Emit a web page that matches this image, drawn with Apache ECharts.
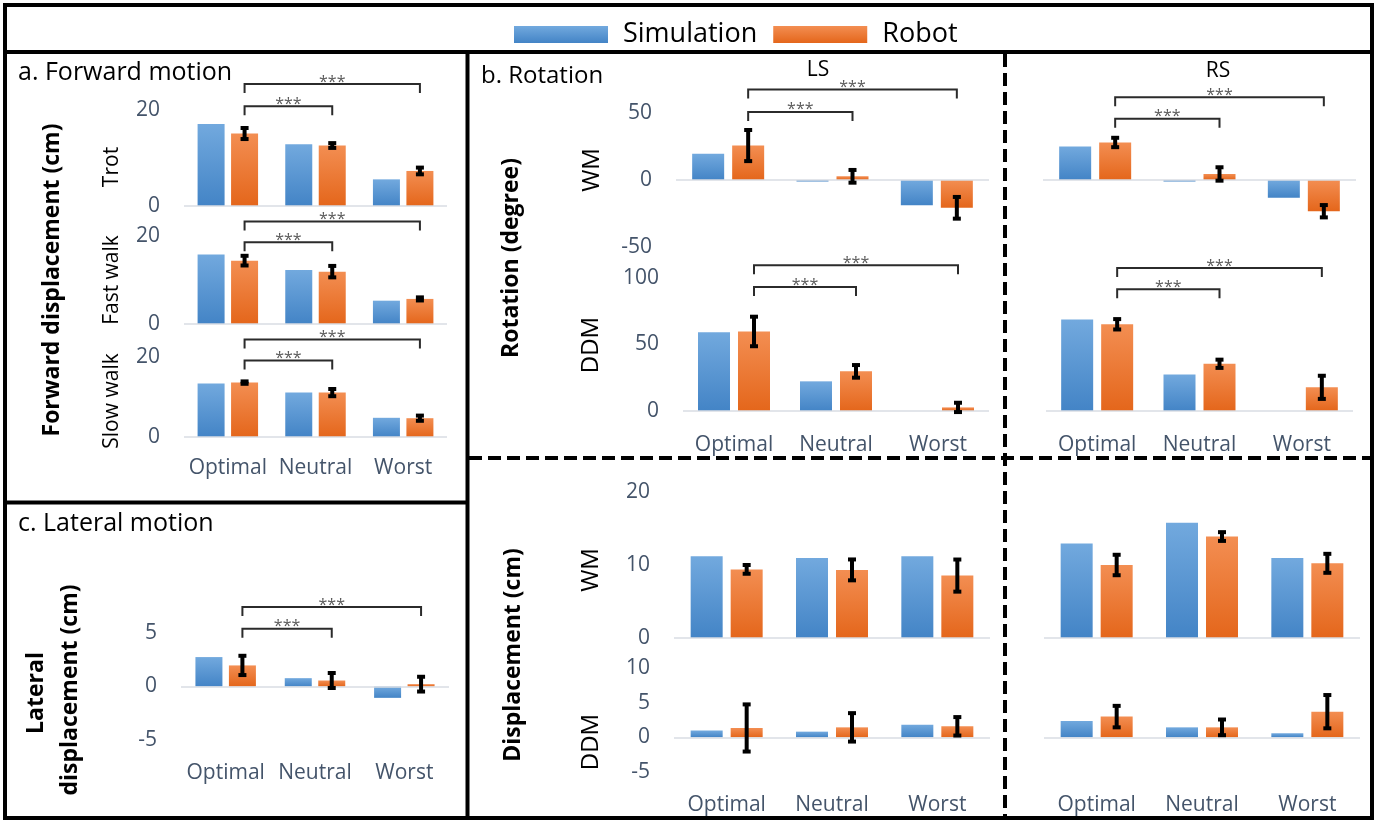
<!DOCTYPE html>
<html>
<head>
<meta charset="utf-8">
<script src="https://cdn.jsdelivr.net/npm/echarts@6/dist/echarts.min.js"></script>
<style>
  html, body { margin: 0; padding: 0; background: #fff; }
  #chart { width: 1390px; height: 821px; }
</style>
</head>
<body>
<div id="chart"></div>
<script>
// ---------------- DATA ----------------
const categories = ['Optimal', 'Neutral', 'Worst'];
const seriesNames = ['Simulation', 'Robot'];

// a. Forward motion - forward displacement (cm)
const trotSim   = [17.1, 12.85, 5.55];
const trotRobot = [15.1, 12.6, 7.3];
const trotErr   = [1.15, 0.5, 0.7];
const fastSim   = [15.8, 12.3, 5.3];
const fastRobot = [14.4, 11.9, 5.7];
const fastErr   = [1.1, 1.3, 0.35];
const slowSim   = [13.4, 11.1, 4.8];
const slowRobot = [13.6, 11.1, 4.7];
const slowErr   = [0.3, 0.9, 0.65];

// c. Lateral motion - lateral displacement (cm)
const latSim   = [2.75, 0.78, -1.06];
const latRobot = [1.97, 0.56, 0.22];
const latErr   = [0.9, 0.7, 0.69];

// b. Rotation (degree)
const rotWmLsSim    = [19.5, -1.2, -18.8];
const rotWmLsRobot  = [25.7, 2.75, -20.75];
const rotWmLsErr    = [11.6, 4.75, 8.1];
const rotWmRsSim    = [25.0, -1.2, -13.3];
const rotWmRsRobot  = [28.0, 4.5, -23.3];
const rotWmRsErr    = [3.5, 5.0, 4.6];
const rotDdmLsSim   = [59.3, 22.3, -1.2];
const rotDdmLsRobot = [59.8, 29.8, 2.7];
const rotDdmLsErr   = [11.1, 4.75, 3.5];
const rotDdmRsSim   = [68.8, 27.5, -1.4];
const rotDdmRsRobot = [65.2, 35.5, 17.8];
const rotDdmRsErr   = [3.9, 3.1, 8.7];

// b. (lower) Displacement (cm)
const dispWmLsSim    = [11.2, 10.97, 11.2];
const dispWmLsRobot  = [9.4, 9.33, 8.55];
const dispWmLsErr    = [0.6, 1.43, 2.2];
const dispWmRsSim    = [12.96, 15.8, 10.97];
const dispWmRsRobot  = [10.0, 13.9, 10.23];
const dispWmRsErr    = [1.4, 0.6, 1.3];
const dispDdmLsSim   = [0.97, 0.82, 1.83];
const dispDdmLsRobot = [1.35, 1.44, 1.59];
const dispDdmLsErr   = [3.4, 2.05, 1.33];
const dispDdmRsSim   = [2.37, 1.44, 0.58];
const dispDdmRsRobot = [2.99, 1.44, 3.7];
const dispDdmRsErr   = [1.55, 1.13, 2.4];

// significance brackets: [fromCategory, toCategory, level]
const trotBrackets   = [[0, 1, 20.8], [0, 2, 25.4]];
const fastBrackets   = [[0, 1, 18.6], [0, 2, 23.3]];
const slowBrackets   = [[0, 1, 19.1], [0, 2, 24.4]];
const latBrackets    = [[0, 1, 5.4], [0, 2, 7.43]];
const rotWmLsBr      = [[0, 1, 50.8], [0, 2, 67.5]];
const rotWmRsBr      = [[0, 1, 45.75], [0, 2, 61.7]];
const rotDdmLsBr     = [[0, 1, 93.2], [0, 2, 109.5]];
const rotDdmRsBr     = [[0, 1, 91.5], [0, 2, 107.5]];
const sigLabel = '***';

// ---------------- LAYOUT ----------------
const FONT = 'Open Sans';
const AXIS_COLOR = '#44546A';
const panels = [
  { g: { left: 184, top: 110, width: 263, height: 96 },  y: [0, 20, 20],   yl: true,  xl: false, sim: trotSim, rob: trotRobot, err: trotErr, br: trotBrackets, bw: 27, gap: 0.24 },
  { g: { left: 184, top: 236, width: 263, height: 88 },  y: [0, 20, 20],   yl: true,  xl: false, sim: fastSim, rob: fastRobot, err: fastErr, br: fastBrackets, bw: 27, gap: 0.24 },
  { g: { left: 184, top: 357, width: 263, height: 80 },  y: [0, 20, 20],   yl: true,  xl: true, xm: 21, sim: slowSim, rob: slowRobot, err: slowErr, br: slowBrackets, bw: 27, gap: 0.24 },
  { g: { left: 181, top: 633, width: 268, height: 107 }, y: [-5, 5, 5],    yl: true,  xl: true, xm: 23, sim: latSim, rob: latRobot, err: latErr, br: latBrackets, bw: 27, gap: 0.24 },
  { g: { left: 676, top: 113, width: 313, height: 134 }, y: [-50, 50, 50], yl: true,  xl: false, sim: rotWmLsSim, rob: rotWmLsRobot, err: rotWmLsErr, br: rotWmLsBr, bw: 32, gap: 0.25 },
  { g: { left: 1043, top: 113, width: 313, height: 134 },y: [-50, 50, 50], yl: false, xl: false, sim: rotWmRsSim, rob: rotWmRsRobot, err: rotWmRsErr, br: rotWmRsBr, bw: 32, gap: 0.25 },
  { g: { left: 683, top: 278, width: 306, height: 133 }, y: [0, 100, 50],  yl: true,  xl: true, xm: 24, sim: rotDdmLsSim, rob: rotDdmLsRobot, err: rotDdmLsErr, br: rotDdmLsBr, bw: 32, gap: 0.25 },
  { g: { left: 1046, top: 278, width: 307, height: 133 },y: [0, 100, 50],  yl: false, xl: true, xm: 24, sim: rotDdmRsSim, rob: rotDdmRsRobot, err: rotDdmRsErr, br: rotDdmRsBr, bw: 32, gap: 0.25 },
  { g: { left: 674, top: 492, width: 316, height: 146 }, y: [0, 20, 10],   yl: true,  xl: false, sim: dispWmLsSim, rob: dispWmLsRobot, err: dispWmLsErr, br: [], bw: 32, gap: 0.25 },
  { g: { left: 1044, top: 492, width: 316, height: 146 },y: [0, 20, 10],   yl: false, xl: false, sim: dispWmRsSim, rob: dispWmRsRobot, err: dispWmRsErr, br: [], bw: 32, gap: 0.25 },
  { g: { left: 674, top: 668, width: 316, height: 104 }, y: [-5, 10, 5],   yl: true,  xl: true, xm: 23, sim: dispDdmLsSim, rob: dispDdmLsRobot, err: dispDdmLsErr, br: [], bw: 32, gap: 0.25 },
  { g: { left: 1044, top: 668, width: 316, height: 104 },y: [-5, 10, 5],   yl: false, xl: true, xm: 23, sim: dispDdmRsSim, rob: dispDdmRsRobot, err: dispDdmRsErr, br: [], bw: 32, gap: 0.25 }
];

const chart = echarts.init(document.getElementById('chart'), null, { renderer: 'canvas' });
const blueGrad = new echarts.graphic.LinearGradient(0, 0, 0, 1, [
  { offset: 0, color: '#72A9DE' }, { offset: 1, color: '#4384C6' }]);
const orangeGrad = new echarts.graphic.LinearGradient(0, 0, 0, 1, [
  { offset: 0, color: '#F38E52' }, { offset: 1, color: '#E4661B' }]);

const grids = [], xAxes = [], yAxes = [], series = [];
panels.forEach((p, i) => {
  grids.push(Object.assign({}, p.g));
  xAxes.push({
    type: 'category', gridIndex: i, data: categories,
    axisLine: { show: false }, axisTick: { show: false }, splitLine: { show: false },
    axisLabel: { show: p.xl, margin: p.xm || 20, color: AXIS_COLOR, fontSize: 21, fontFamily: FONT, interval: 0 }
  });
  yAxes.push({
    type: 'value', gridIndex: i, min: p.y[0], max: p.y[1], interval: p.y[2],
    axisLine: { show: false }, axisTick: { show: false }, splitLine: { show: false },
    axisLabel: { show: p.yl, margin: 24, color: AXIS_COLOR, fontSize: 21, fontFamily: FONT }
  });
  const off = p.bw * (1 + p.gap) / 2;
  // zero baseline, drawn beneath the bars
  series.push({
    type: 'line', xAxisIndex: i, yAxisIndex: i, data: [], z: 1, silent: true,
    markLine: {
      silent: true, symbol: 'none', label: { show: false }, animation: false,
      lineStyle: { color: '#D9DDE3', width: 1.5, type: 'solid' }, data: [{ yAxis: 0 }]
    }
  });
  series.push({
    name: seriesNames[0], type: 'bar', xAxisIndex: i, yAxisIndex: i, data: p.sim, z: 3,
    barWidth: p.bw, barGap: (p.gap * 100) + '%',
    itemStyle: { color: blueGrad }
  });
  series.push({
    name: seriesNames[1], type: 'bar', xAxisIndex: i, yAxisIndex: i, data: p.rob, z: 3,
    barWidth: p.bw, barGap: (p.gap * 100) + '%',
    itemStyle: { color: orangeGrad }
  });
  series.push({
    type: 'custom', xAxisIndex: i, yAxisIndex: i, z: 5, silent: true, clip: false,
    data: p.rob.map((v, k) => [k, v, p.err[k]]),
    encode: { x: 0, y: 1 },
    renderItem: (params, api) => {
      const c = api.value(0), v = api.value(1), e = api.value(2);
      const t = api.coord([c, v + e]), b = api.coord([c, v - e]);
      const x = t[0] + off;
      const st = { stroke: '#000', lineWidth: 4 };
      return { type: 'group', children: [
        { type: 'line', shape: { x1: x, y1: t[1], x2: x, y2: b[1] }, style: st },
        { type: 'line', shape: { x1: x - 4, y1: t[1], x2: x + 4, y2: t[1] }, style: st },
        { type: 'line', shape: { x1: x - 4, y1: b[1], x2: x + 4, y2: b[1] }, style: st }
      ]};
    }
  });
  if (p.br.length) {
    series.push({
      type: 'custom', xAxisIndex: i, yAxisIndex: i, z: 5, silent: true, clip: false,
      data: p.br, encode: { x: 0, y: 2 },
      renderItem: (params, api) => {
        const a = api.coord([api.value(0), api.value(2)]);
        const b = api.coord([api.value(1), api.value(2)]);
        const x1 = a[0] + off, x2 = b[0] + off, y = a[1];
        return { type: 'group', children: [
          { type: 'polyline', shape: { points: [[x1, y + 9], [x1, y], [x2, y], [x2, y + 9]] },
            style: { stroke: '#2b2b2b', lineWidth: 2, fill: null } },
          { type: 'text', x: (x1 + x2) / 2, y: y - 2,
            style: { text: sigLabel, fill: '#5a5a5a', fontSize: 16, fontFamily: FONT, align: 'center', verticalAlign: 'middle' } }
        ]};
      }
    });
  }
});

function txt(text, x, y, size, opts) {
  opts = opts || {};
  return {
    type: 'text', x: x, y: y, rotation: opts.rot ? Math.PI / 2 : 0, silent: true, z: 10,
    style: { text: text, fill: '#000', fontSize: size, fontFamily: FONT,
      fontWeight: opts.bold ? 'bold' : 'normal',
      align: opts.align || 'center', verticalAlign: 'middle' }
  };
}
function ln(x1, y1, x2, y2, dash) {
  return { type: 'line', silent: true, z: 20, shape: { x1, y1, x2, y2 },
    style: { stroke: '#000', lineWidth: 4, lineDash: dash ? [13, 6] : null } };
}

const graphics = [
  { type: 'rect', silent: true, z: 20, shape: { x: 5, y: 5, width: 1367, height: 813 },
    style: { stroke: '#000', lineWidth: 4, fill: null } },
  ln(5, 52, 1372, 52),
  ln(467.5, 52, 467.5, 818),
  ln(5, 502.5, 467.5, 502.5),
  ln(1005, 54, 1005, 816, true),
  ln(469, 458, 1370, 458, true),
  txt('a. Forward motion', 18, 73, 25, { align: 'left' }),
  txt('c. Lateral motion', 18, 524, 25, { align: 'left' }),
  txt('b. Rotation', 481, 76, 24, { align: 'left' }),
  txt('LS', 818, 70, 21),
  txt('RS', 1218, 71, 21),
  txt('Trot', 112, 167, 21, { rot: true }),
  txt('Fast walk', 112, 280, 21, { rot: true }),
  txt('Slow walk', 112, 401, 21, { rot: true }),
  txt('Forward displacement (cm)', 52, 280, 23, { rot: true, bold: true }),
  txt('Lateral', 36, 693, 23, { rot: true, bold: true }),
  txt('displacement (cm)', 70, 690, 23, { rot: true, bold: true }),
  txt('Rotation (degree)', 511, 258, 23, { rot: true, bold: true }),
  txt('Displacement (cm)', 513, 655, 23, { rot: true, bold: true }),
  txt('WM', 592, 170, 24, { rot: true }),
  txt('DDM', 591, 345, 24, { rot: true }),
  txt('WM', 591, 570, 24, { rot: true }),
  txt('DDM', 591, 742, 24, { rot: true })
];

chart.setOption({
  animation: false,
  backgroundColor: '#fff',
  legend: {
    data: seriesNames, left: 509, top: 16, icon: 'rect',
    itemWidth: 94, itemHeight: 17, itemGap: 16,
    textStyle: { fontSize: 27, fontFamily: FONT, color: '#000', padding: [0, 0, 0, 10] }
  },
  grid: grids,
  xAxis: xAxes,
  yAxis: yAxes,
  series: series,
  graphic: graphics
});
</script>
</body>
</html>
